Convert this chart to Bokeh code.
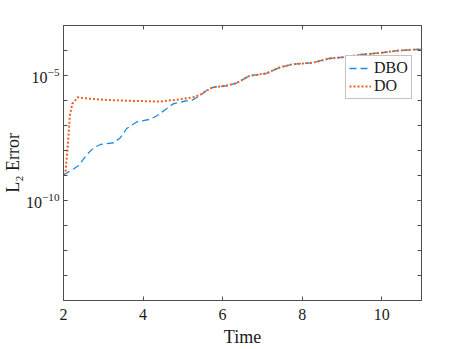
from bokeh.plotting import figure
from bokeh.models import LinearAxis, LogAxis, FixedTicker, Range1d, Legend, LegendItem
from bokeh.embed import file_html
from bokeh.resources import INLINE

# ---- data ----
do_x = [2.00, 2.05, 2.11, 2.16, 2.22, 2.27, 2.36, 2.51, 3.01, 3.59, 4.43, 4.84, 5.26, 5.43,
        5.59, 5.76, 6.09, 6.34, 6.68, 7.09, 7.43, 7.76, 8.26, 8.68, 9.09, 9.51, 10.01, 10.43, 10.88, 11.00]
do_y = [1.05e-9, 1.41e-9, 1.66e-8, 2.51e-7, 7.41e-7, 9.12e-7, 1.35e-6, 1.23e-6, 1.07e-6, 9.77e-7,
        9.12e-7, 1.07e-6, 1.35e-6, 1.66e-6,
        2.45e-6, 3.39e-6, 3.89e-6, 4.90e-6, 9.77e-6, 1.20e-5, 2.09e-5, 2.82e-5, 3.24e-5, 4.79e-5,
        5.50e-5, 6.92e-5, 8.13e-5, 1.00e-4, 1.10e-4, 1.12e-4]

dbo_x = [2.00, 2.26, 2.38, 2.59, 2.76, 2.93, 3.26, 3.43, 3.59, 3.84, 4.18, 4.34, 4.59, 4.76, 5.01, 5.26, 5.43,
         5.59, 5.76, 6.09, 6.34, 6.68, 7.09, 7.43, 7.76, 8.26, 8.68, 9.09, 9.51, 10.01, 10.43, 10.88, 11.00]
dbo_y = [1.05e-9, 1.86e-9, 2.51e-9, 6.92e-9, 1.29e-8, 1.74e-8, 2.04e-8, 3.24e-8, 7.59e-8, 1.38e-7,
         1.78e-7, 2.40e-7, 4.68e-7, 7.41e-7, 9.12e-7, 1.07e-6, 1.58e-6,
         2.45e-6, 3.39e-6, 3.89e-6, 4.90e-6, 9.77e-6, 1.20e-5, 2.09e-5, 2.82e-5, 3.24e-5, 4.79e-5,
         5.50e-5, 6.92e-5, 8.13e-5, 1.00e-4, 1.10e-4, 1.12e-4]

x_ticks = [2, 4, 6, 8, 10]
y_major_ticks = [1e-10, 1e-5]
y_minor_ticks = [1e-14, 1e-13, 1e-12, 1e-11, 1e-10, 1e-9, 1e-8, 1e-7, 1e-6, 1e-5, 1e-4, 1e-3]

FONT = "Liberation Serif"
AX = "#4d4d4d"

p = figure(width=465, height=349, y_axis_type="log",
           x_range=Range1d(2, 11), y_range=Range1d(1e-14, 1e-3),
           output_backend="svg", toolbar_location=None,
           min_border_left=63, min_border_right=44, min_border_top=25, min_border_bottom=46)
p.outline_line_color = None
p.grid.visible = False
p.background_fill_color = "white"
p.border_fill_color = "white"

blue = "#1f8be0"
orange = "#e95f22"
r1 = p.line(dbo_x, dbo_y, line_color=blue, line_width=1.3, line_dash="7 4")
r2 = p.line(do_x, do_y, line_color=orange, line_width=2, line_dash="2 2")

def style(ax, labels=True):
    ax.axis_line_color = AX
    ax.major_tick_line_color = AX
    ax.minor_tick_line_color = AX
    ax.major_tick_in = 4
    ax.major_tick_out = 0
    ax.minor_tick_in = 4
    ax.minor_tick_out = 0
    ax.major_label_text_font = FONT
    ax.major_label_text_font_size = "16px"
    ax.major_label_text_color = "#1a1a1a"
    ax.axis_label_text_font = FONT
    ax.axis_label_text_font_size = "18px"
    ax.axis_label_text_font_style = "normal"
    ax.axis_label_text_color = "#1a1a1a"
    if not labels:
        ax.major_label_text_font_size = "0px"
        ax.major_label_text_color = None

xa = p.xaxis[0]
xa.ticker = FixedTicker(ticks=x_ticks)
style(xa)
xa.axis_label = "Time"
xa.major_label_standoff = 8
xa.axis_label_standoff = 4

ya = p.yaxis[0]
ya.ticker = FixedTicker(ticks=y_major_ticks, minor_ticks=y_minor_ticks)
style(ya)
ya.axis_label = "L\u2082 Error"
ya.major_label_standoff = 4
ya.axis_label_standoff = 0

xt = LinearAxis(ticker=FixedTicker(ticks=x_ticks))
style(xt, labels=False)
p.add_layout(xt, "above")
yr = LogAxis(ticker=FixedTicker(ticks=y_major_ticks, minor_ticks=y_minor_ticks))
style(yr, labels=False)
p.add_layout(yr, "right")

legend = Legend(items=[LegendItem(label="DBO", renderers=[r1]),
                       LegendItem(label="DO", renderers=[r2])],
                location=(282, 201))
legend.label_text_font = FONT
legend.label_text_font_size = "16px"
legend.label_text_color = "#1a1a1a"
legend.border_line_color = "#888888"
legend.border_line_width = 1
legend.background_fill_alpha = 1
legend.padding = 3
legend.spacing = 0
legend.margin = 0
legend.glyph_width = 22
legend.glyph_height = 16
legend.label_height = 16
legend.label_standoff = 3
p.add_layout(legend, "center")

open("out.html", "w").write(file_html(p, INLINE))
